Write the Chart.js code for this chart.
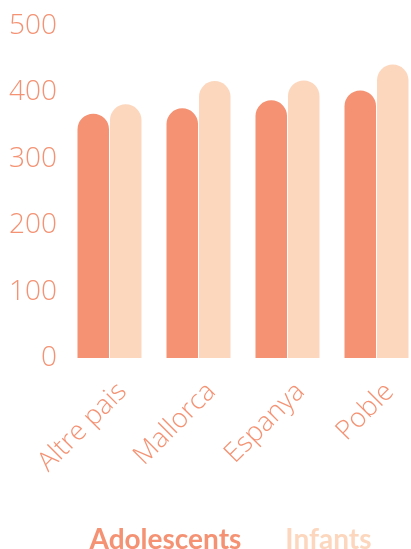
<!DOCTYPE html>
<html>
<head>
<meta charset="utf-8">
<script src="https://cdn.jsdelivr.net/npm/chart.js@4"></script>
<style>
  html, body { margin: 0; padding: 0; background: #fff; overflow: hidden; }
  #wrap { width: 421px; height: 564px; }
</style>
</head>
<body>
<div id="wrap"><canvas id="chart" width="421" height="564"></canvas></div>
<script>
const categories = ["Altre pais", "Mallorca", "Espanya", "Poble"];
const adolescents = [368, 376, 388, 403];
const infants = [382, 417, 418, 442];
const yTicks = [0, 100, 200, 300, 400, 500];

const darkColor = "#F49273";
const lightColor = "#FCD7BE";
const textColor = "#F49273";

const ctx = document.getElementById("chart").getContext("2d");

new Chart(ctx, {
  type: "bar",
  data: {
    labels: categories,
    datasets: [
      {
        label: "Adolescents",
        data: adolescents,
        backgroundColor: darkColor,
        borderRadius: { topLeft: 16, topRight: 16 },
        borderSkipped: "bottom",
        barPercentage: 0.97,
        categoryPercentage: 0.73,
      },
      {
        label: "Infants",
        data: infants,
        backgroundColor: lightColor,
        borderRadius: { topLeft: 16, topRight: 16 },
        borderSkipped: "bottom",
        barPercentage: 0.97,
        categoryPercentage: 0.73,
      },
    ],
  },
  options: {
    responsive: false,
    animation: false,
    layout: { padding: { top: 26, right: 0, left: 6, bottom: 0 } },
    plugins: {
      tooltip: { enabled: false },
      legend: {
        position: "bottom",
        labels: {
          boxWidth: 20,
          boxHeight: 0,
          padding: 10,
          font: { family: "Lato", size: 28, weight: "bold" },
          generateLabels: (chart) =>
            chart.data.datasets.map((ds, i) => ({
              text: ds.label,
              fillStyle: "rgba(0,0,0,0)",
              strokeStyle: "rgba(0,0,0,0)",
              lineWidth: 0,
              fontColor: ds.backgroundColor,
              datasetIndex: i,
            })),
        },
      },
    },
    scales: {
      x: {
        grid: { display: false, drawTicks: false },
        border: { display: false },
        afterFit: (scale) => {
          scale.height = 158;
        },
        ticks: {
          color: textColor,
          maxRotation: 45,
          minRotation: 45,
          padding: 18,
          labelOffset: 13,
          font: { family: "Open Sans", size: 27, weight: "300" },
        },
      },
      y: {
        min: 0,
        max: 500,
        grid: { display: false, drawTicks: false },
        border: { display: false },
        afterFit: (scale) => {
          scale.width = 59;
        },
        afterBuildTicks: (axis) => {
          axis.ticks = yTicks.map((v) => ({ value: v }));
        },
        ticks: {
          color: textColor,
          padding: 8,
          font: { family: "Open Sans", size: 28, weight: "300" },
        },
      },
    },
  },
});
</script>
</body>
</html>
